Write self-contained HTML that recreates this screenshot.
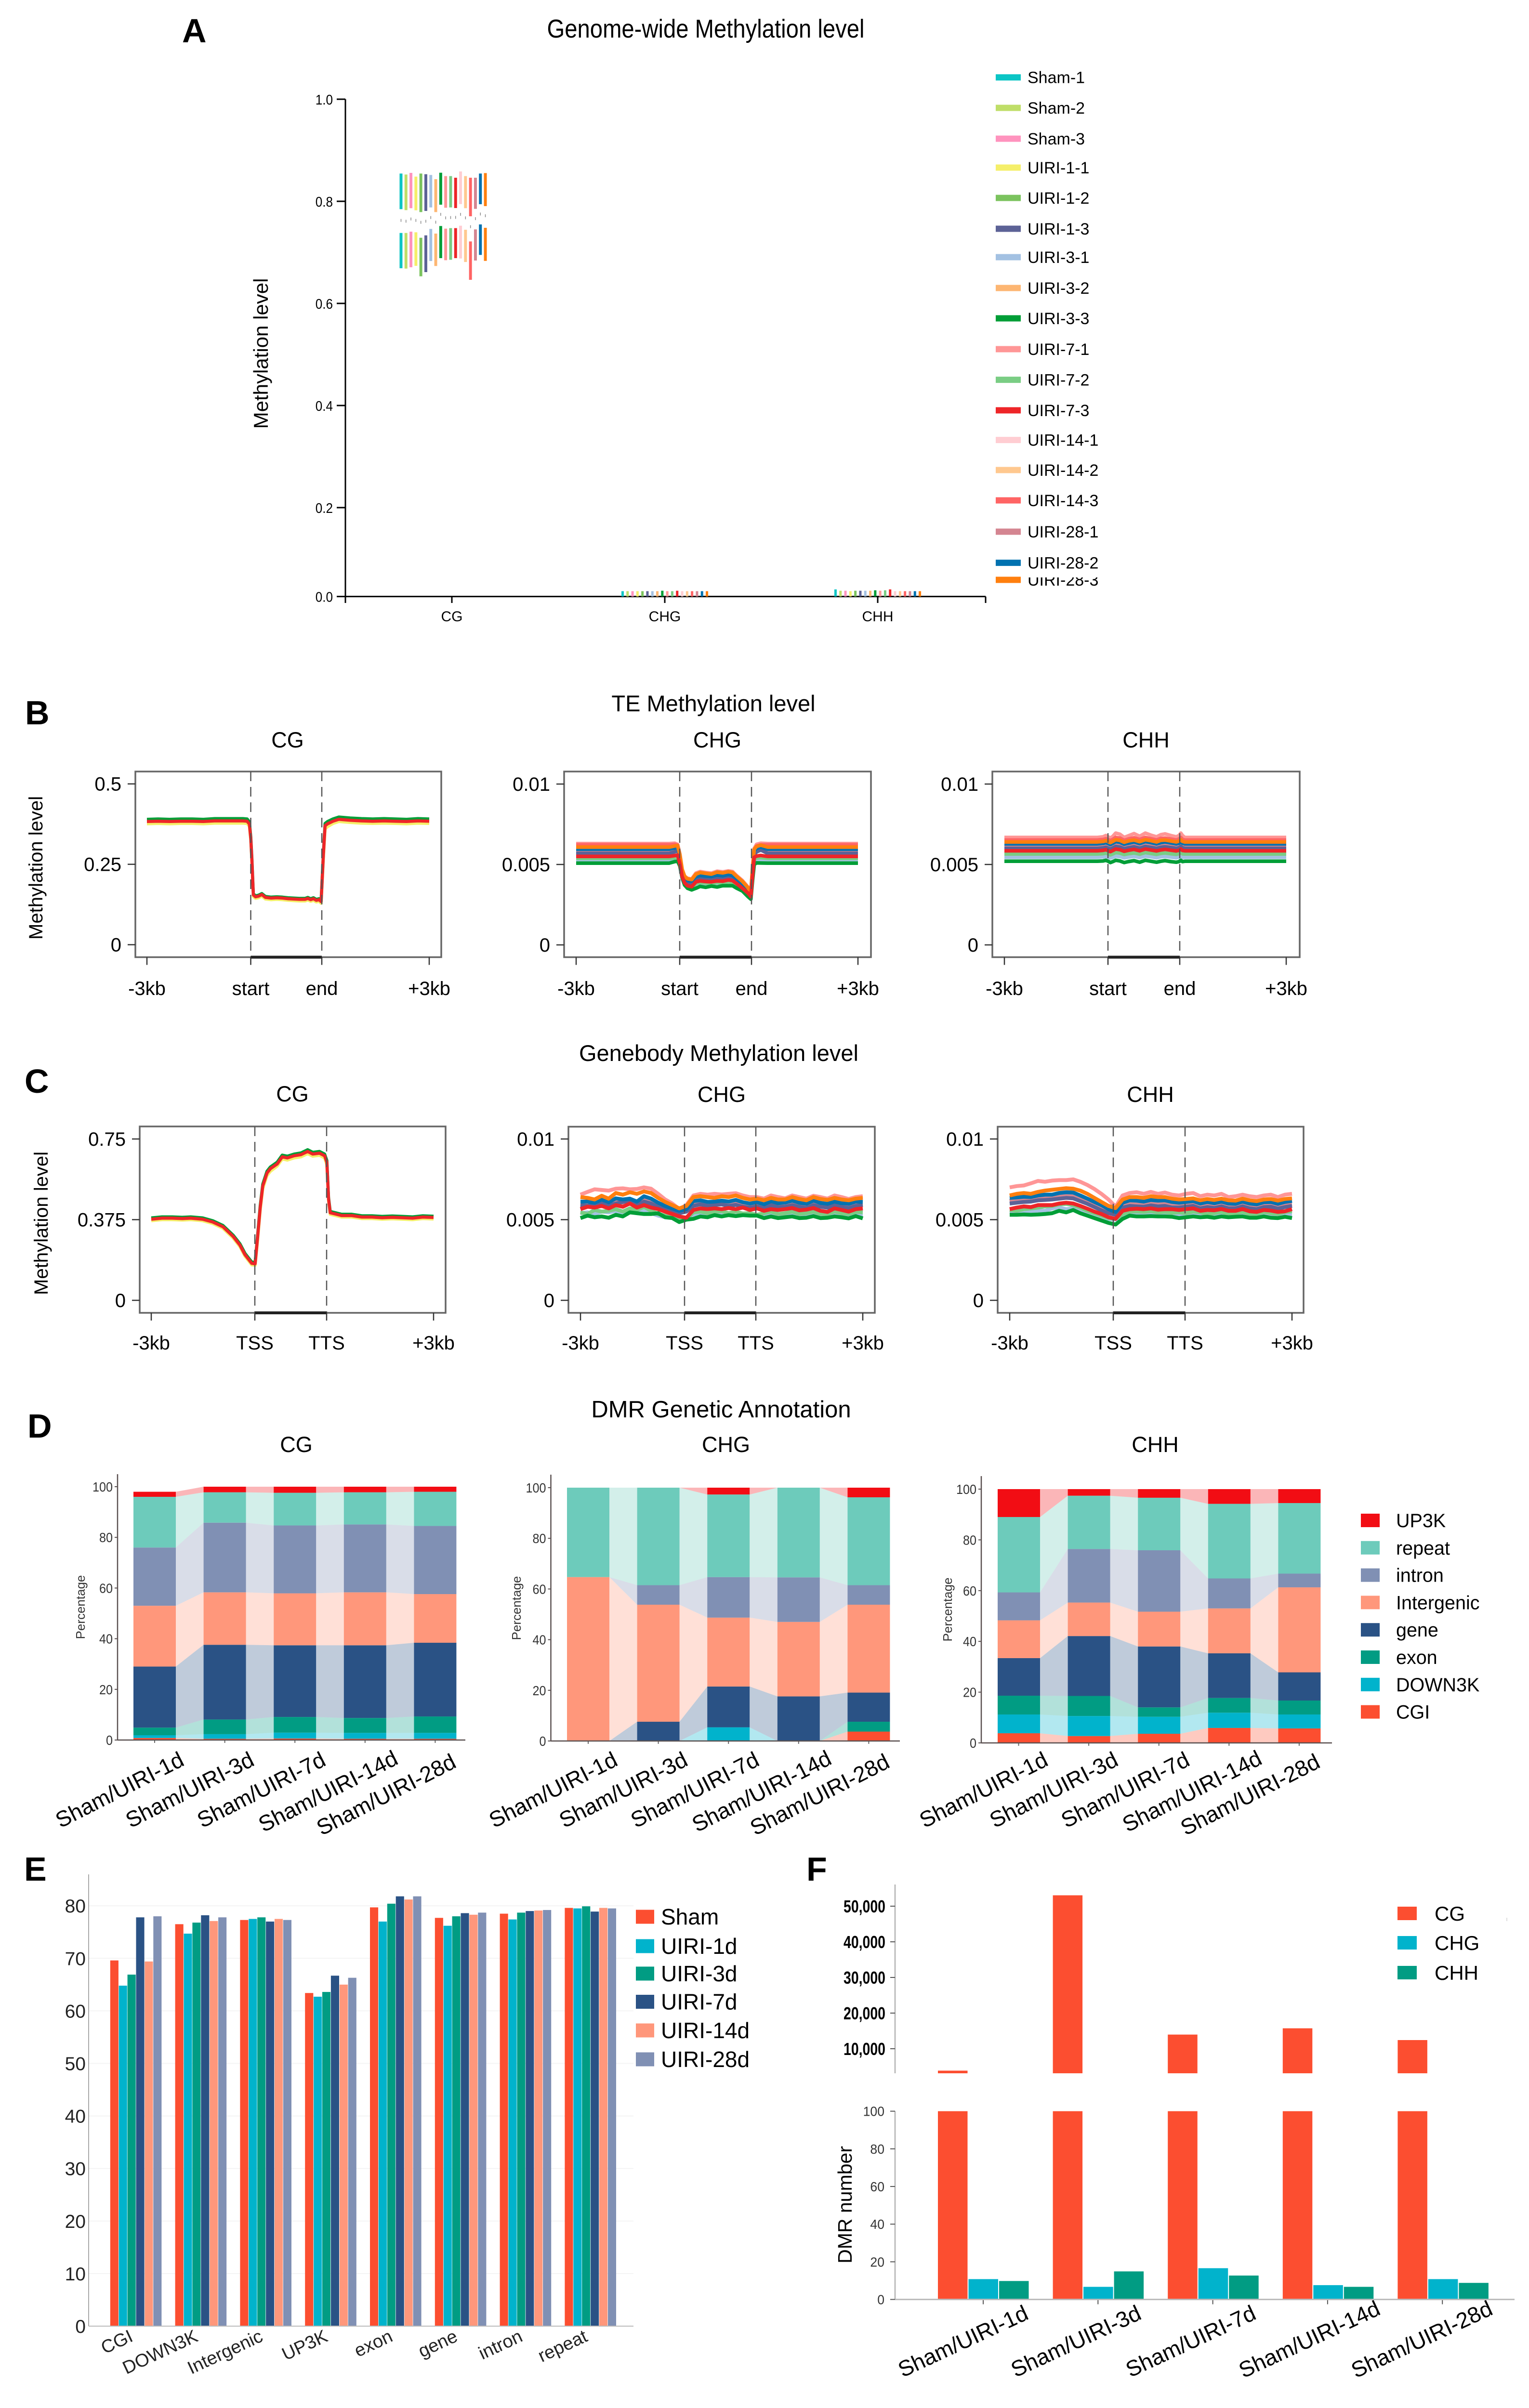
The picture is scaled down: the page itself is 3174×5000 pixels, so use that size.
<!DOCTYPE html>
<html lang="en">
<head>
<meta charset="utf-8">
<title>Methylation figure</title>
<style>
html,body{margin:0;padding:0;background:#fff}
svg{display:block;font-family:"Liberation Sans",Arial,sans-serif}
</style>
</head>
<body>
<svg id="figure" xmlns="http://www.w3.org/2000/svg" width="3174" height="5000" viewBox="0 0 3174 5000">
<rect x="0" y="0" width="3174" height="5000" fill="#fff"/>
<defs><clipPath id="legendClip"><rect x="2120" y="1199" width="300" height="40"/></clipPath></defs>

<text x="378" y="88" font-size="70" font-weight="700">A</text>
<text x="52" y="1504" font-size="70" font-weight="700">B</text>
<text x="51" y="2269" font-size="70" font-weight="700">C</text>
<text x="57" y="2985" font-size="70" font-weight="700">D</text>
<text x="50" y="3905" font-size="70" font-weight="700">E</text>
<text x="1674" y="3905" font-size="70" font-weight="700">F</text>

<text text-anchor="middle" font-size="54" transform="translate(1465,78) scale(0.875,1)">Genome-wide Methylation level</text>
<text text-anchor="middle" font-size="42" transform="translate(556,734) rotate(-90)">Methylation level</text>

<text x="1481" y="1477" text-anchor="middle" font-size="47">TE Methylation level</text>
<text x="597" y="1552" text-anchor="middle" font-size="45">CG</text>
<text x="1489" y="1552" text-anchor="middle" font-size="45">CHG</text>
<text x="2379" y="1552" text-anchor="middle" font-size="45">CHH</text>
<text text-anchor="middle" font-size="40" transform="translate(88,1802) rotate(-90)">Methylation level</text>

<text x="1492" y="2203" text-anchor="middle" font-size="47">Genebody Methylation level</text>
<text x="607" y="2287" text-anchor="middle" font-size="45">CG</text>
<text x="1498" y="2288" text-anchor="middle" font-size="45">CHG</text>
<text x="2388" y="2288" text-anchor="middle" font-size="45">CHH</text>
<text text-anchor="middle" font-size="40" transform="translate(99,2540) rotate(-90)">Methylation level</text>

<text x="1497" y="2943" text-anchor="middle" font-size="49">DMR Genetic Annotation</text>
<text x="615" y="3015" text-anchor="middle" font-size="45">CG</text>
<text x="1507" y="3015" text-anchor="middle" font-size="45">CHG</text>
<text x="2398" y="3015" text-anchor="middle" font-size="45">CHH</text>

<text text-anchor="middle" font-size="41" transform="translate(1768,4578) rotate(-90)">DMR number</text>
<line x1="3128" y1="3982" x2="3128" y2="3989" stroke="#ddd" stroke-width="2"/>
</svg>

<script>
/* ---------- Panel A data ---------- */
const sampleNames = ['Sham-1','Sham-2','Sham-3','UIRI-1-1','UIRI-1-2','UIRI-1-3','UIRI-3-1','UIRI-3-2','UIRI-3-3','UIRI-7-1','UIRI-7-2','UIRI-7-3','UIRI-14-1','UIRI-14-2','UIRI-14-3','UIRI-28-1','UIRI-28-2','UIRI-28-3'];
const sampleColors = ['#0BC5C5','#BFDE68','#FF93BE','#F5EF6A','#7BC35E','#5C6296','#A3C1E2','#FDB672','#009E37','#FF9696','#7ACD84','#EE2528','#FFCDD2','#FFC88F','#FF6464','#D48591','#0072B0','#FF7F0E'];
const genomeCategories = ['CG','CHG','CHH'];
const genomeYTicks = ['0.0','0.2','0.4','0.6','0.8','1.0'];
const cgUpperTop = [.8544,.8525,.8557,.8484,.8544,.8531,.8516,.8434,.8560,.8494,.8494,.8462,.8585,.8494,.8462,.8462,.8544,.8553];
const cgUpperBottom = [.7846,.7827,.7865,.7824,.7789,.7811,.7880,.7789,.7934,.7874,.7880,.7868,.7946,.7865,.7707,.7852,.7943,.7906];
const cgMiddle = [.7626,.7610,.7654,.7626,.7588,.7610,.7682,.7591,.7745,.7676,.7682,.7685,.7745,.7676,.7503,.7660,.7751,.7717];
const cgLowerTop = [.7380,.7380,.7406,.7393,.7286,.7333,.7459,.7368,.7516,.7465,.7475,.7475,.7522,.7443,.7214,.7450,.7547,.7481];
const cgLowerBottom = [.6689,.6682,.6708,.6736,.6531,.6613,.6830,.6733,.6887,.6846,.6855,.6887,.6880,.6811,.6462,.6840,.6950,.6833];
const chgLevel = [.012,.012,.012,.012,.012,.012,.012,.012,.013,.012,.012,.013,.012,.012,.012,.012,.012,.012];
const chhLevel = [.016,.013,.013,.012,.013,.013,.013,.013,.014,.013,.014,.016,.012,.012,.012,.012,.012,.012];

/* ---------- Panels B, C data ---------- */
const teXLabels = ['-3kb','start','end','+3kb'];
const geneXLabels = ['-3kb','TSS','TTS','+3kb'];
const teCgYTicks = ['0','0.25','0.5'];
const geneCgYTicks = ['0','0.375','0.75'];
const lowYTicks = ['0','0.005','0.01'];

const binsTeCg = [0,4,8,12,16,20,24,28,32,34,35.5,36.3,36.8,37.2,37.7,38.5,39.5,40.7,42,44,46,48,50,52,54,56,57,58,59,60,61,61.7,62.5,63.1,64,65.9,68,72,76,80,84,88,92,96,100];
const teCgYellow = [.376,.377,.376,.377,.377,.376,.378,.378,.378,.378,.377,.368,.325,.255,.150,.144,.146,.151,.142,.140,.141,.140,.138,.137,.136,.136,.139,.135,.138,.133,.135,.129,.27,.36,.367,.377,.383,.380,.378,.377,.378,.377,.376,.378,.377];
const teCgGreen = [.390,.391,.390,.391,.391,.390,.392,.392,.392,.392,.391,.382,.335,.265,.158,.152,.154,.159,.150,.148,.149,.148,.146,.145,.144,.144,.147,.143,.146,.141,.143,.137,.285,.377,.383,.391,.397,.394,.392,.391,.392,.391,.390,.392,.391];
const teCgRed = [.383,.384,.383,.384,.384,.383,.385,.385,.385,.385,.384,.375,.33,.26,.155,.149,.151,.156,.147,.145,.146,.145,.143,.142,.141,.141,.144,.140,.143,.138,.140,.134,.28,.37,.376,.384,.390,.387,.385,.384,.385,.384,.383,.385,.384];

const binsTe = [0,12,24,33,35,36,36.8,37.6,38.5,39.5,41,42.5,44,46,48,50,52,54,55.5,57,59,61,62,62.6,63.2,64,65.5,68,84,100];
const teChg71 = [630,630,630,630,632,625,565,470,428,414,410,446,456,450,446,458,454,460,456,430,400,360,330,485,600,625,632,630,630,630];
const teChg143 = [622,622,622,622,625,620,560,465,420,405,400,432,440,438,432,444,440,447,442,418,388,350,322,470,590,615,622,622,622,622];
const teChg283 = [608,608,608,608,615,618,560,470,425,411,406,440,450,445,440,452,448,455,450,425,395,355,325,480,595,612,620,608,608,608];
const teChg282 = [595,595,595,595,602,612,550,455,415,400,398,425,432,428,426,434,430,438,432,410,380,345,320,470,585,600,608,595,595,595];
const teChg281 = [584,584,584,584,590,595,540,448,408,394,390,418,424,420,418,426,422,430,424,402,374,340,318,460,575,590,596,584,584,584];
const teChg13 = [569,569,569,569,578,590,530,440,400,386,382,410,416,412,410,418,414,422,416,396,368,335,312,450,560,578,590,569,569,569];
const teChg73 = [550,550,550,550,555,558,505,425,385,368,362,392,398,394,392,398,396,404,400,380,352,322,300,430,545,552,556,550,550,550];
const teChg72 = [538,538,538,538,542,545,500,418,378,362,355,382,388,384,382,388,384,392,388,368,345,315,296,420,530,540,543,538,538,538];
const teChg31 = [523,523,523,523,527,530,490,410,372,355,348,372,378,374,372,378,374,382,378,360,340,310,292,410,515,525,528,523,523,523];
const teChg33 = [508,508,508,508,518,520,490,420,372,352,342,352,364,358,366,360,368,368,368,352,335,300,284,400,500,510,509,508,508,508];

const teChh71 = [668,668,668,668,672,680,672,664,675,695,688,668,678,692,675,695,682,672,685,690,680,672,680,695,680,668,668,668,668,668];
const teChh143 = [652,652,652,652,655,660,655,648,656,668,664,650,658,666,655,668,660,652,662,664,658,652,658,668,656,652,652,652,652,652];
const teChh283 = [640,640,640,640,643,648,643,636,644,654,650,638,646,652,642,654,648,640,650,652,646,640,646,654,644,640,640,640,640,640];
const teChh282 = [628,628,628,628,631,636,630,624,632,642,638,626,632,640,630,642,636,628,636,640,634,628,632,642,632,628,628,628,628,628];
const teChh281 = [615,615,615,615,618,622,617,611,618,628,624,612,619,626,616,628,622,614,622,626,620,614,619,628,618,615,615,615,615,615];
const teChh13 = [600,600,600,600,603,607,602,596,603,612,608,598,604,610,601,612,606,600,607,610,605,600,604,612,603,600,600,600,600,600];
const teChh73 = [585,585,585,585,588,592,586,580,587,596,592,582,588,594,585,596,590,584,590,594,589,584,588,596,587,585,585,585,585,585];
const teChh72 = [565,565,565,565,567,571,566,560,566,574,571,562,567,572,564,574,569,563,569,572,567,563,567,574,566,565,565,565,565,565];
const teChh31 = [545,545,545,545,547,550,545,540,545,552,549,541,546,551,543,552,548,542,548,550,546,542,546,552,545,545,545,545,545,545];
const teChh33 = [520,520,520,520,522,526,520,512,518,526,522,512,518,524,514,526,520,514,520,524,518,514,518,526,518,520,520,520,520,520];

const binsGeneCg = [0,3.8,7.4,11,14,18.2,21.8,25.4,29,31.4,33.2,35.6,36.8,37.6,38.6,39.5,41,42.2,44.6,46.4,48.2,50.6,53,55.4,57.2,59.6,61.4,62.2,62.8,63.4,65,67.4,71,74.6,78.2,81.8,85.4,89,92.6,96.2,100];
const geneCgYellow = [.370,.375,.375,.373,.375,.370,.357,.335,.290,.250,.205,.165,.163,.270,.420,.520,.580,.600,.624,.657,.652,.662,.667,.682,.670,.674,.662,.630,.465,.400,.395,.387,.387,.380,.380,.377,.379,.377,.375,.380,.378];
const geneCgGreen = [.383,.388,.388,.386,.388,.383,.370,.348,.303,.263,.218,.178,.176,.290,.440,.540,.600,.620,.642,.675,.670,.680,.685,.700,.688,.692,.680,.650,.478,.413,.408,.400,.400,.393,.393,.390,.392,.390,.388,.393,.391];
const geneCgRed = [.377,.382,.382,.380,.382,.377,.364,.342,.297,.257,.212,.172,.170,.282,.432,.532,.592,.612,.634,.667,.662,.672,.677,.692,.680,.684,.672,.642,.472,.407,.402,.394,.394,.387,.387,.384,.386,.384,.382,.387,.385];

const binsGene = [0,2.5,5,7.5,10,12.5,15,17.5,20,22.5,25,27.5,30,32.5,35,37.5,40,42.5,45,47.5,50,52.5,55,57.5,60,62.5,65,67.5,70,72.5,75,77.5,80,82.5,85,87.5,90,92.5,95,97.5,100];
const geneChg71 = [655,672,688,684,680,692,694,688,690,700,692,660,625,600,566,590,650,660,655,660,656,660,664,650,640,640,630,650,640,632,650,640,630,648,640,630,650,640,628,640,645];
const geneChg283 = [640,635,625,648,630,665,655,670,660,675,665,635,610,590,570,585,640,645,640,635,645,640,650,635,625,630,620,635,625,625,640,628,620,640,628,622,635,625,620,630,635];
const geneChg282 = [612,612,605,625,608,632,625,630,612,645,630,605,585,570,555,565,615,620,610,612,618,612,622,608,600,608,595,615,602,606,618,605,598,618,604,598,612,602,598,612,610];
const geneChg281 = [600,595,590,605,592,612,605,612,600,625,610,590,572,560,545,555,600,602,596,600,602,598,605,595,588,592,582,600,590,590,600,592,584,600,590,586,598,588,584,596,598];
const geneChg13 = [590,585,592,600,588,600,610,615,590,612,600,580,560,550,540,550,585,595,585,590,595,585,592,580,575,582,570,590,578,580,590,580,572,590,580,574,588,578,572,585,590];
const geneChg73 = [565,580,575,585,570,590,580,600,575,590,575,565,550,535,520,512,560,570,565,570,565,572,565,575,560,570,555,565,560,565,572,558,562,572,555,548,570,560,550,565,570];
const geneChg72 = [545,535,560,550,555,565,550,570,560,580,555,535,525,515,510,505,545,550,540,548,552,540,550,538,540,530,540,550,535,540,550,535,540,550,535,535,550,540,535,548,545];
const geneChg31 = [540,545,535,550,545,555,540,550,540,560,540,525,515,510,505,510,530,540,530,535,540,530,535,530,525,530,522,530,525,528,535,525,530,535,522,525,532,526,522,530,532];
const geneChg33 = [510,525,515,520,512,530,520,545,540,535,535,540,515,510,485,500,505,520,515,528,520,528,522,528,525,525,510,520,510,515,520,510,512,522,510,512,520,515,508,522,508];

const geneChh71 = [700,708,712,725,740,735,742,745,745,750,735,715,690,660,625,580,650,665,670,660,672,660,668,655,650,660,665,645,655,650,660,640,645,655,645,640,650,655,640,655,660];
const geneChh283 = [650,660,665,660,672,680,685,690,695,692,680,660,635,610,585,572,625,640,640,635,645,640,640,630,625,628,632,620,628,622,630,620,618,630,620,615,625,628,618,628,632];
const geneChh282 = [635,638,642,640,650,655,655,665,670,668,650,630,610,590,565,548,605,620,618,612,622,618,620,610,605,610,615,600,610,602,612,600,598,612,600,595,608,610,598,610,616];
const geneChh281 = [615,625,620,630,640,635,640,645,650,648,630,610,590,570,550,540,585,600,595,595,605,598,600,590,590,595,598,585,590,585,595,585,585,595,585,580,590,592,580,590,595];
const geneChh13 = [600,605,610,612,620,622,625,630,635,632,615,598,578,558,540,530,575,585,582,580,588,582,585,575,575,580,585,570,578,572,582,570,570,582,570,565,578,580,568,578,585];
const geneChh73 = [565,575,582,578,590,590,590,600,605,600,585,568,550,535,515,505,555,565,568,565,570,562,565,565,560,565,570,555,560,558,566,555,555,566,552,548,560,556,548,552,565];
const geneChh72 = [560,555,565,570,575,582,585,595,598,590,575,555,540,525,510,505,535,550,550,548,552,545,548,542,545,540,550,545,535,540,548,535,540,548,535,535,548,540,535,548,552];
const geneChh31 = [548,545,540,552,555,555,570,575,565,570,552,535,520,510,505,500,520,535,530,532,530,530,532,530,535,528,525,532,525,525,530,525,528,530,522,522,530,525,522,528,530];
const geneChh33 = [530,530,532,530,532,535,540,555,545,560,540,525,510,495,480,470,505,525,520,520,522,520,520,518,510,515,520,515,518,512,520,515,518,520,512,512,520,512,510,518,510];

/* ---------- Panel D data ---------- */
const dmrCategories = ['Sham/UIRI-1d','Sham/UIRI-3d','Sham/UIRI-7d','Sham/UIRI-14d','Sham/UIRI-28d'];
const regionNames = ['CGI','DOWN3K','exon','gene','Intergenic','intron','repeat','UP3K'];
const regionColors = ['#FC4E30','#01B3CC','#019C83','#2A5285','#FF977B','#8090B4','#6DCBBB','#F20D14'];
const percentTicks = ['0','20','40','60','80','100'];
const cgCgi = [.8,.5,.6,.5,.5];
const cgDown = [1.1,1.8,2.3,2.3,2.3];
const cgExon = [3,5.8,6.2,5.9,6.5];
const cgGene = [24.1,29.5,28.3,28.7,29.1];
const cgInter = [24,20.7,20.5,20.9,19.2];
const cgIntron = [23,27.5,26.8,26.8,26.9];
const cgRepeat = [20,12,12.9,12.7,13.5];
const cgUp = [2,2.2,2.4,2.2,2];
const chgCgi = [0,0,0,0,3.7];
const chgDown = [0,0,5.4,0,0];
const chgExon = [0,0,0,0,3.9];
const chgGene = [0,7.6,16.1,17.6,11.5];
const chgInter = [64.7,46.2,27.2,29.4,34.7];
const chgIntron = [0,7.7,16,17.6,7.7];
const chgRepeat = [35.3,38.5,32.6,35.4,34.7];
const chgUp = [0,0,2.7,0,3.8];
const chhCgi = [3.8,2.7,3.6,5.9,5.7];
const chhDown = [7.4,7.9,6.7,6,5.5];
const chhExon = [7.4,7.9,3.7,5.8,5.5];
const chhGene = [14.8,23.6,24,17.6,11.1];
const chhInter = [14.9,13.2,13.7,17.7,33.5];
const chhIntron = [11,21.1,24.2,11.8,5.4];
const chhRepeat = [29.7,21,20.7,29.4,27.8];
const chhUp = [11,2.6,3.4,5.8,5.5];
const legendRegionOrder = ['UP3K','repeat','intron','Intergenic','gene','exon','DOWN3K','CGI'];

/* ---------- Panel E data ---------- */
const regionCategories = ['CGI','DOWN3K','Intergenic','UP3K','exon','gene','intron','repeat'];
const groupNames = ['Sham','UIRI-1d','UIRI-3d','UIRI-7d','UIRI-14d','UIRI-28d'];
const groupColors = ['#FC4E30','#01B3CC','#019C83','#2A5285','#FF977B','#8090B4'];
const levelTicks = ['0','10','20','30','40','50','60','70','80'];
const shamLevel = [69.6,76.5,77.3,63.4,79.7,77.7,78.5,79.6];
const uiri1dLevel = [64.8,74.7,77.5,62.7,77,76.2,77.4,79.5];
const uiri3dLevel = [66.9,76.8,77.8,63.6,80.4,78,78.7,79.9];
const uiri7dLevel = [77.8,78.2,77,66.7,81.8,78.6,79,78.9];
const uiri14dLevel = [69.4,77.1,77.5,65,81.2,78.3,79.1,79.6];
const uiri28dLevel = [78,77.8,77.3,66.3,81.8,78.7,79.2,79.5];

/* ---------- Panel F data ---------- */
const contextNames = ['CG','CHG','CHH'];
const contextColors = ['#FC4E30','#01B3CC','#019C83'];
const dmrUpperTicks = ['10,000','20,000','30,000','40,000','50,000'];
const dmrLowerTicks = ['0','20','40','60','80','100'];
const dmrCg = [3850,53050,13970,15730,12430];
const dmrChg = [10.8,6.7,16.6,7.6,10.8];
const dmrChh = [9.8,14.9,12.7,6.7,8.8];

/* ---------- helpers ---------- */
const svg = document.getElementById('figure');
const NS = 'http://www.w3.org/2000/svg';
function slug(s){ return String(s).toLowerCase().replace(/[^a-z0-9]+/g,'-').replace(/^-|-$/g,''); }
function add(parent, tag, attrs, content){
  const el = document.createElementNS(NS, tag);
  for (const k in attrs) el.setAttribute(k, attrs[k]);
  if (content !== undefined) el.textContent = content;
  parent.appendChild(el);
  return el;
}
function label(parent, x, y, str, size, o){
  o = o || {};
  const attrs = {'font-size':size, 'text-anchor':o.anchor||'middle', fill:o.fill||'#000',
    transform:'translate('+x+','+y+') rotate('+(o.rot||0)+') scale('+(o.sx||1)+',1)'};
  if (o.weight) attrs['font-weight'] = o.weight;
  if (o.dy) attrs.dy = o.dy;
  return add(parent, 'text', attrs, str);
}

/* ---------- Panel A ---------- */
(function(){
  const g = add(svg,'g',{});
  
  
  const yA = v => v <= .2 ? 1238.6 - (v/.2)*184.6 : 1054 - (v-.2)*1060;
  const xA = i => 938 + 442*i;
  const sampleX = (center,s) => center + (s-8.5)*10.3;
  const yAxis = add(g,'line',{x1:717,y1:yA(1),x2:717,y2:yA(0),stroke:'#000','stroke-width':3});
  
  
  const xAxis = add(g,'line',{x1:717,y1:yA(0),x2:2046,y2:yA(0),stroke:'#000','stroke-width':3});
  
  
  genomeYTicks.forEach(t=>{
    const v = Number(t);
    const tk = add(g,'line',{x1:699,y1:yA(v),x2:717,y2:yA(v),stroke:'#000','stroke-width':3});
    
    
    const lb = label(g,691,yA(v)+11,t,29,{anchor:'end',sx:.9});
    
    
  });
  genomeCategories.forEach((c,i)=>{
    const tk = add(g,'line',{x1:xA(i),y1:yA(0),x2:xA(i),y2:1252,stroke:'#000','stroke-width':3});
    
    
    const lb = label(g,xA(i),1290,c,30);
    
    
  });
  [717,2046].forEach(x=>{
    const tk = add(g,'line',{x1:x,y1:yA(0),x2:x,y2:1252,stroke:'#000','stroke-width':3});
    
    
  });
  const legendRowY = s => [160.7,224,288,348,411,475,534,598,661,725,788.6,852,913.6,976,1039,1104,1168.6,1204][s];
  sampleNames.forEach((n,s)=>{
    const cx = sampleX(xA(0)-18,s);
    const up = add(g,'rect',{x:cx-3,y:yA(cgUpperTop[s]),width:6,height:yA(cgUpperBottom[s])-yA(cgUpperTop[s]),fill:sampleColors[s]});
    
    
    const low = add(g,'rect',{x:cx-3,y:yA(cgLowerTop[s]),width:6,height:yA(cgLowerBottom[s])-yA(cgLowerTop[s]),fill:sampleColors[s]});
    
    
    const mid = add(g,'line',{x1:cx,y1:yA(cgMiddle[s])-3,x2:cx,y2:yA(cgMiddle[s])+3,stroke:'#888','stroke-width':1.5});
    
    
    const b1 = add(g,'rect',{x:sampleX(xA(1),s)-2.5,y:yA(chgLevel[s]),width:5,height:yA(0)-yA(chgLevel[s]),fill:sampleColors[s]});
    
    
    const b2 = add(g,'rect',{x:sampleX(xA(2),s)-2.5,y:yA(chhLevel[s]),width:5,height:yA(0)-yA(chhLevel[s]),fill:sampleColors[s]});
    
    
    const ly = legendRowY(s);
    const sw = add(g,'rect',{x:2067,y:ly-6.5,width:52,height:13,fill:sampleColors[s]});
    
    
    const holder = add(g,'g',{});
    
    
    if (s === 17) holder.setAttribute('clip-path','url(#legendClip)');
    const tb = s < 17 ? ly+12 : 1216;
    const lt = label(holder,2133,tb,n,34,{anchor:'start'});
    
    
  });
})();

/* ---------- Panels B, C ---------- */
function lineChart(c){
  const g = add(svg,'g',{});
  
  
  const X = p => c.x0 + p/100*(c.x1-c.x0);
  const vMax = Number(c.yTicks[c.yTicks.length-1]);
  const Y = v => c.y0 - v/vMax*(c.y0-c.yTop);
  c.lines.forEach((arr,k)=>{
    const d = arr.map((v,i)=>(i?'L':'M')+X(c.bins[i]).toFixed(1)+' '+Y(v*c.unit).toFixed(1)).join(' ');
    const p = add(g,'path',{d:d,fill:'none',stroke:c.colors[k],'stroke-width':c.width,'stroke-linejoin':'round','stroke-linecap':'butt'});
    
    
  });
  const fr = add(g,'rect',{x:c.l,y:c.t,width:c.r-c.l,height:c.b-c.t,fill:'none',stroke:'#666','stroke-width':3.5});
  
  
  [c.xs,c.xe].forEach(x=>{
    const dl = add(g,'line',{x1:x,y1:c.t,x2:x,y2:c.b,stroke:'#555','stroke-width':2.5,'stroke-dasharray':'20 12'});
    
    
  });
  const bar = add(g,'line',{x1:c.xs,y1:c.b,x2:c.xe,y2:c.b,stroke:'#222','stroke-width':6});
  
  
  c.yTicks.forEach(t=>{
    const v = Number(t);
    const tk = add(g,'line',{x1:c.l-16,y1:Y(v),x2:c.l,y2:Y(v),stroke:'#333','stroke-width':2.5});
    
    
    const lb = label(g,c.l-29,Y(v)+14,t,40,{anchor:'end'});
    
    
  });
  [c.x0,c.xs,c.xe,c.x1].forEach((x,i)=>{
    const tk = add(g,'line',{x1:x,y1:c.b,x2:x,y2:c.b+16,stroke:'#333','stroke-width':2.5});
    
    
    const lb = label(g,x,c.labelY,c.xLabels[i],40);
    
    
  });
}
const cgTraceNames = ['UIRI-1-1','UIRI-3-3','UIRI-7-3'];
const cgTraceColors = ['#F5EF6A','#009E37','#EE2528'];
const teTraceNames = ['UIRI-7-1','UIRI-14-3','UIRI-3-1','UIRI-7-2','UIRI-28-1','UIRI-1-3','UIRI-28-2','UIRI-3-3','UIRI-28-3','UIRI-7-3'];
const teTraceColors = ['#FF9696','#FF6464','#A3C1E2','#7ACD84','#D48591','#5C6296','#0072B0','#009E37','#FF7F0E','#EE2528'];
const geneTraceNames = ['UIRI-7-1','UIRI-3-1','UIRI-7-2','UIRI-28-1','UIRI-1-3','UIRI-28-2','UIRI-3-3','UIRI-28-3','UIRI-7-3'];
const geneTraceColors = ['#FF9696','#A3C1E2','#7ACD84','#D48591','#5C6296','#0072B0','#009E37','#FF7F0E','#EE2528'];

lineChart({name:'te-cg',l:281,r:916,t:1602,b:1987.5,x0:305,xs:520.5,xe:668,x1:891,y0:1961.6,yTop:1627.7,yTicks:teCgYTicks,xLabels:teXLabels,labelY:2066,bins:binsTeCg,unit:1,width:6.5,
  lines:[teCgYellow,teCgGreen,teCgRed],colors:cgTraceColors,names:cgTraceNames});
lineChart({name:'te-chg',l:1171,r:1808,t:1602,b:1987.5,x0:1196,xs:1411,xe:1560,x1:1781,y0:1962,yTop:1628,yTicks:lowYTicks,xLabels:teXLabels,labelY:2066,bins:binsTe,unit:1e-5,width:7.5,
  lines:[teChg71,teChg143,teChg31,teChg72,teChg281,teChg13,teChg282,teChg33,teChg283,teChg73],colors:teTraceColors,names:teTraceNames});
lineChart({name:'te-chh',l:2060,r:2698,t:1602,b:1987.5,x0:2085,xs:2300,xe:2449,x1:2670,y0:1962,yTop:1628,yTicks:lowYTicks,xLabels:teXLabels,labelY:2066,bins:binsTe,unit:1e-5,width:7.5,
  lines:[teChh71,teChh143,teChh31,teChh72,teChh281,teChh13,teChh282,teChh33,teChh283,teChh73],colors:teTraceColors,names:teTraceNames});
lineChart({name:'gene-cg',l:290,r:925,t:2339,b:2726,x0:314,xs:529,xe:678,x1:900,y0:2700,yTop:2365,yTicks:geneCgYTicks,xLabels:geneXLabels,labelY:2802,bins:binsGeneCg,unit:1,width:6.5,
  lines:[geneCgYellow,geneCgGreen,geneCgRed],colors:cgTraceColors,names:cgTraceNames});
lineChart({name:'gene-chg',l:1180,r:1816,t:2339.5,b:2726,x0:1205,xs:1421,xe:1569,x1:1791,y0:2700,yTop:2365,yTicks:lowYTicks,xLabels:geneXLabels,labelY:2802,bins:binsGene,unit:1e-5,width:8,
  lines:[geneChg71,geneChg31,geneChg72,geneChg281,geneChg13,geneChg282,geneChg33,geneChg283,geneChg73],colors:geneTraceColors,names:geneTraceNames});
lineChart({name:'gene-chh',l:2071,r:2706,t:2339.5,b:2726,x0:2096,xs:2311,xe:2460,x1:2682,y0:2700,yTop:2365,yTicks:lowYTicks,xLabels:geneXLabels,labelY:2802,bins:binsGene,unit:1e-5,width:8,
  lines:[geneChh71,geneChh31,geneChh72,geneChh281,geneChh13,geneChh282,geneChh33,geneChh283,geneChh73],colors:geneTraceColors,names:geneTraceNames});

/* ---------- Panel D ---------- */
function stackChart(c){
  const g = add(svg,'g',{});
  
  
  const Y = v => c.y0 - v/100*(c.y0-c.y100);
  const X = i => c.tick0 + i*c.tickStep;
  const barLeft = i => c.bar0 + i*c.tickStep;
  const cum = dmrCategories.map((_,i)=>{
    let s = 0; return c.series.map(a=>{ const b = s; s += a[i]; return [b,s]; });
  });
  for (let i=0;i<dmrCategories.length-1;i++){
    c.series.forEach((a,k)=>{
      const x1 = barLeft(i)+c.barW, x2 = barLeft(i+1);
      const pts = [[x1,Y(cum[i][k][1])],[x2,Y(cum[i+1][k][1])],[x2,Y(cum[i+1][k][0])],[x1,Y(cum[i][k][0])]].map(p=>p[0].toFixed(1)+','+p[1].toFixed(1)).join(' ');
      const rb = add(g,'polygon',{points:pts,fill:regionColors[k],'fill-opacity':.3});
      
      
    });
  }
  dmrCategories.forEach((cat,i)=>{
    c.series.forEach((a,k)=>{
      const r = add(g,'rect',{x:barLeft(i),y:Y(cum[i][k][1]),width:c.barW,height:Y(cum[i][k][0])-Y(cum[i][k][1]),fill:regionColors[k]});
      
      
    });
    const tk = add(g,'line',{x1:X(i),y1:c.y0,x2:X(i),y2:c.y0+6,stroke:'#666','stroke-width':2});
    
    
    const dx = [-73,-73,-70,-77,-102][i], dy = [0,0,0,3,10][i];
    const lb = label(g,X(i)+dx,3716+dy,cat,46,{rot:-27,dy:'.35em'});
    
    
  });
  const ya = add(g,'line',{x1:c.axisX,y1:c.axisTop,x2:c.axisX,y2:c.y0,stroke:'#5a5050','stroke-width':2.5});
  
  
  const xa = add(g,'line',{x1:c.axisX,y1:c.y0,x2:c.axisR,y2:c.y0,stroke:'#5a5050','stroke-width':2.5});
  
  
  percentTicks.forEach(t=>{
    const v = Number(t);
    const tk = add(g,'line',{x1:c.axisX-6,y1:Y(v),x2:c.axisX,y2:Y(v),stroke:'#5a5050','stroke-width':2});
    
    
    const lb = label(g,c.axisX-10,Y(v)+10,t,28,{anchor:'end',fill:'#333',sx:.9});
    
    
  });
  const yt = label(g,c.titleX,c.titleY,'Percentage',26,{rot:-90,fill:'#333'});
  
  
}
stackChart({name:'dmr-cg',y0:3613,y100:3087,tick0:321,tickStep:145.6,bar0:277,barW:88,axisX:244,axisTop:3061,axisR:966,titleX:176,titleY:3337,
  series:[cgCgi,cgDown,cgExon,cgGene,cgInter,cgIntron,cgRepeat,cgUp]});
stackChart({name:'dmr-chg',y0:3615,y100:3089,tick0:1221,tickStep:145.6,bar0:1177,barW:88,axisX:1143.5,axisTop:3062,axisR:1868,titleX:1081,titleY:3339,
  series:[chgCgi,chgDown,chgExon,chgGene,chgInter,chgIntron,chgRepeat,chgUp]});
stackChart({name:'dmr-chh',y0:3619,y100:3092,tick0:2114.5,tickStep:145.6,bar0:2071,barW:88,axisX:2037,axisTop:3065,axisR:2765,titleX:1976,titleY:3342,
  series:[chhCgi,chhDown,chhExon,chhGene,chhInter,chhIntron,chhRepeat,chhUp]});
legendRegionOrder.forEach((n,i)=>{
  const k = regionNames.indexOf(n);
  const cy = 3157 + i*56.8;
  const sw = add(svg,'rect',{x:2825,y:cy-14,width:39,height:28,fill:regionColors[k]});
  
  
  const lb = label(svg,2898,cy+14,n,39.5,{anchor:'start'});
  
  
});

/* ---------- Panel E ---------- */
(function(){
  const g = add(svg,'g',{});
  
  
  const Y = v => 4830 - v*10.91;
  const X = i => 282.5 + i*134.8;
  const W = 17.9;
  levelTicks.forEach(t=>{
    const v = Number(t);
    if (v > 0){
      const gl = add(g,'line',{x1:184,y1:Y(v),x2:1315,y2:Y(v),stroke:'#f4f4f4','stroke-width':2});
      
      
    }
    const lb = label(g,178,Y(v)+14,t,39,{anchor:'end',fill:'#222'});
    
    
  });
  [shamLevel,uiri1dLevel,uiri3dLevel,uiri7dLevel,uiri14dLevel,uiri28dLevel].forEach((arr,s)=>{
    arr.forEach((v,i)=>{
      const r = add(g,'rect',{x:X(i)+(s-3)*W,y:Y(v),width:W-.8,height:Y(0)-Y(v),fill:groupColors[s]});
      
      
    });
  });
  regionCategories.forEach((c,i)=>{
    const lb = label(g,X(i)-4,4860,c,38,{anchor:'end',rot:-25,fill:'#222'});
    
    
  });
  const ya = add(g,'line',{x1:184,y1:3892,x2:184,y2:4830,stroke:'#aaa','stroke-width':2});
  
  
  const xa = add(g,'line',{x1:184,y1:4830,x2:1315,y2:4830,stroke:'#bbb','stroke-width':2});
  
  
  groupNames.forEach((n,i)=>{
    const cy = [3980,4041,4098,4156.5,4216,4276][i];
    const sw = add(g,'rect',{x:1320,y:cy-14.5,width:38,height:29,fill:groupColors[i]});
    
    
    const lb = label(g,1372,cy+16,n,46,{anchor:'start'});
    
    
  });
})();

/* ---------- Panel F ---------- */
(function(){
  const g = add(svg,'g',{});
  
  
  const yUp = v => 4254 - (v-10000)*.0074;
  const yLow = v => 4774.6 - v*3.909;
  const breakBase = 4305, lowCap = 100;
  const left = i => 1947 + i*238.6;
  dmrCategories.forEach((c,i)=>{
    const top = add(g,'rect',{x:left(i),y:yUp(dmrCg[i]),width:61.5,height:breakBase-yUp(dmrCg[i]),fill:contextColors[0]});
    
    
    const cgVal = Math.min(dmrCg[i],lowCap);
    const low = add(g,'rect',{x:left(i),y:yLow(cgVal),width:61.5,height:yLow(0)-yLow(cgVal),fill:contextColors[0]});
    
    
    const b1 = add(g,'rect',{x:left(i)+63.5,y:yLow(dmrChg[i]),width:61.5,height:yLow(0)-yLow(dmrChg[i]),fill:contextColors[1]});
    
    
    const b2 = add(g,'rect',{x:left(i)+127,y:yLow(dmrChh[i]),width:61.5,height:yLow(0)-yLow(dmrChh[i]),fill:contextColors[2]});
    
    
    const tx = 2041 + i*238.3;
    const tk = add(g,'line',{x1:tx,y1:yLow(0),x2:tx,y2:yLow(0)+10,stroke:'#555','stroke-width':2});
    
    
    const lb = label(g,tx-[42,46,46,38,43][i],[4861,4861,4861,4857,4857][i],c,46,{rot:-25,dy:'.35em'});
    
    
  });
  const ya1 = add(g,'line',{x1:1858,y1:3913,x2:1858,y2:4305,stroke:'#bbb','stroke-width':3});
  
  
  const ya2 = add(g,'line',{x1:1858,y1:yLow(100),x2:1858,y2:yLow(0),stroke:'#bbb','stroke-width':3});
  
  
  const xa = add(g,'line',{x1:1858,y1:yLow(0),x2:3144,y2:yLow(0),stroke:'#bbb','stroke-width':3});
  
  
  dmrUpperTicks.forEach(t=>{
    const v = Number(t.replace(',',''));
    const tk = add(g,'line',{x1:1848,y1:yUp(v),x2:1858,y2:yUp(v),stroke:'#555','stroke-width':2});
    
    
    const lb = label(g,1838,yUp(v)+13,t,36,{anchor:'end',weight:700,sx:.79});
    
    
  });
  dmrLowerTicks.forEach(t=>{
    const v = Number(t);
    const tk = add(g,'line',{x1:1848,y1:yLow(v),x2:1858,y2:yLow(v),stroke:'#555','stroke-width':2});
    
    
    const lb = label(g,1836,yLow(v)+10,t,28,{anchor:'end',fill:'#333',sx:.95});
    
    
  });
  contextNames.forEach((n,i)=>{
    const cy = [3973,4034,4096][i];
    const sw = add(g,'rect',{x:2901,y:cy-14,width:40,height:28,fill:contextColors[i]});
    
    
    const lb = label(g,2978,cy+15,n,42,{anchor:'start'});
    
    
  });
})();
</script>
</body>
</html>
